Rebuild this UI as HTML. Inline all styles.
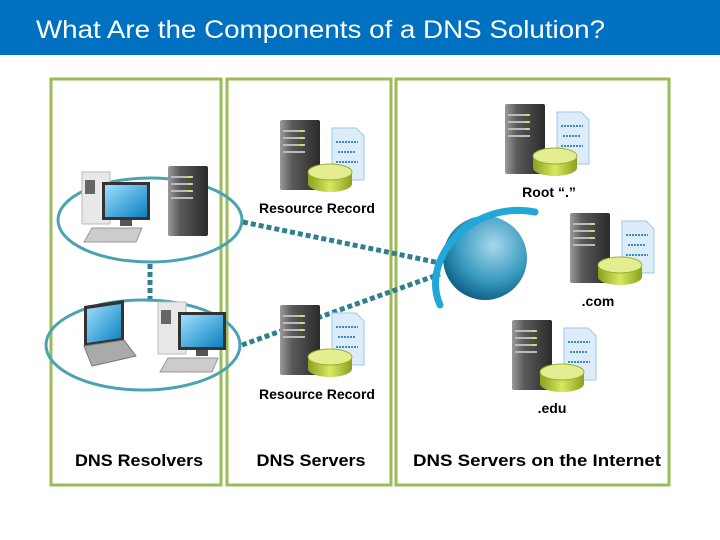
<!DOCTYPE html>
<html><head><meta charset="utf-8"><style>
html,body{margin:0;padding:0;background:#fff;width:720px;height:540px;overflow:hidden}
svg{display:block}
</style></head><body>
<svg width="720" height="540" viewBox="0 0 720 540" xmlns="http://www.w3.org/2000/svg" font-family="Liberation Sans, sans-serif">
<defs>
<linearGradient id="srv" x1="0" x2="1"><stop offset="0" stop-color="#9a9a9a"/><stop offset="0.3" stop-color="#5a5a5a"/><stop offset="1" stop-color="#2a2a2a"/></linearGradient>
<linearGradient id="disk" x1="0" x2="1"><stop offset="0" stop-color="#8aa020"/><stop offset="0.5" stop-color="#d8e860"/><stop offset="1" stop-color="#8aa020"/></linearGradient>
<linearGradient id="scr" x1="0" y1="0" x2="1" y2="1"><stop offset="0" stop-color="#9fe0ff"/><stop offset="1" stop-color="#0a7fc0"/></linearGradient>
<radialGradient id="glb" cx="0.6" cy="0.35" r="0.7"><stop offset="0" stop-color="#a8d8ec"/><stop offset="0.6" stop-color="#3a9ac0"/><stop offset="1" stop-color="#0a5a80"/></radialGradient>
<g id="server">
<rect x="0" y="0" width="40" height="70" rx="2" fill="url(#srv)"/>
<rect x="3" y="10" width="22" height="2" fill="#bbb"/><rect x="3" y="17" width="22" height="2" fill="#bbb"/><rect x="3" y="24" width="22" height="2" fill="#bbb"/><rect x="3" y="31" width="22" height="2" fill="#bbb"/>
<rect x="20" y="10" width="4" height="2" fill="#cde060"/><rect x="20" y="17" width="4" height="2" fill="#cde060"/><rect x="20" y="24" width="4" height="2" fill="#cde060"/>
</g>
<g id="dbdoc">
<path d="M52 8 h24 l8 8 v44 h-32z" fill="#dcecf8" stroke="#9cc8e8"/>
<g stroke="#3a8ac8" stroke-width="2" stroke-dasharray="2 1"><line x1="56" y1="22" x2="78" y2="22"/><line x1="58" y1="32" x2="76" y2="32"/><line x1="56" y1="42" x2="78" y2="42"/></g>
<path d="M28 52 v12 a22 8 0 0 0 44 0 v-12z" fill="url(#disk)"/>
<ellipse cx="50" cy="52" rx="22" ry="8" fill="#e4ee90" stroke="#9ab030"/>
</g>
<g id="node"><use href="#server"/><use href="#dbdoc"/></g>
<g id="desk">
<rect x="0" y="0" width="28" height="52" fill="#e8e8e8" stroke="#bbb"/><rect x="3" y="8" width="10" height="14" fill="#666"/>
<rect x="20" y="10" width="48" height="38" fill="#333"/><rect x="23" y="13" width="42" height="32" fill="url(#scr)"/>
<rect x="38" y="48" width="12" height="6" fill="#555"/>
<path d="M10 56 h50 l-6 14 h-52z" fill="#ccc" stroke="#999"/>
</g>
</defs>
<rect x="0" y="0" width="720" height="55" fill="#0070c0"/>
<text x="36" y="38" font-size="25" fill="#fff" textLength="569" lengthAdjust="spacingAndGlyphs">What Are the Components of a DNS Solution?</text>
<g fill="none" stroke="#9bbb59" stroke-width="3">
<rect x="51" y="79" width="170" height="406"/>
<rect x="227" y="79" width="164" height="406"/>
<rect x="396" y="79" width="273" height="406"/>
</g>
<g stroke="#2f7f8f" stroke-width="5" stroke-dasharray="5 3" fill="none">
<line x1="150" y1="264" x2="150" y2="300"/>
<line x1="243" y1="222" x2="440" y2="263"/>
<line x1="242" y1="345" x2="440" y2="274"/>
</g>
<ellipse cx="150" cy="220" rx="92" ry="42" fill="none" stroke="#4aa3b0" stroke-width="3"/>
<ellipse cx="143" cy="345" rx="97" ry="45" fill="none" stroke="#4aa3b0" stroke-width="3"/>
<use href="#desk" x="82" y="172"/>
<use href="#server" x="168" y="166"/>
<g>
<path d="M84 306 l40 -6 v40 l-40 6z" fill="#333"/><path d="M87 309 l34 -5 v34 l-34 5z" fill="url(#scr)"/>
<path d="M84 346 l40 -6 l12 16 l-44 10z" fill="#aaa" stroke="#777"/>
</g>
<use href="#desk" x="158" y="302"/>
<use href="#node" x="280" y="120"/>
<use href="#node" x="280" y="305"/>
<use href="#node" x="505" y="104"/>
<use href="#node" x="570" y="213"/>
<use href="#node" x="512" y="320"/>
<circle cx="485" cy="258" r="42" fill="url(#glb)"/>
<path d="M440 305 C 420 260, 470 200, 535 212" fill="none" stroke="#22a8d8" stroke-width="7" stroke-linecap="round"/>
<g font-size="14" fill="#000" text-anchor="middle" font-weight="bold">
<text x="317" y="213" textLength="116" lengthAdjust="spacingAndGlyphs">Resource Record</text>
<text x="317" y="399" textLength="116" lengthAdjust="spacingAndGlyphs">Resource Record</text>
<text x="549" y="197">Root “.”</text>
<text x="598" y="306">.com</text>
<text x="552" y="413">.edu</text>
</g>
<g font-size="17" fill="#000" text-anchor="middle" font-weight="bold">
<text x="139" y="466" textLength="128" lengthAdjust="spacingAndGlyphs">DNS Resolvers</text>
<text x="311" y="466" textLength="109" lengthAdjust="spacingAndGlyphs">DNS Servers</text>
<text x="537" y="466" textLength="248" lengthAdjust="spacingAndGlyphs">DNS Servers on the Internet</text>
</g>
</svg>
</body></html>
